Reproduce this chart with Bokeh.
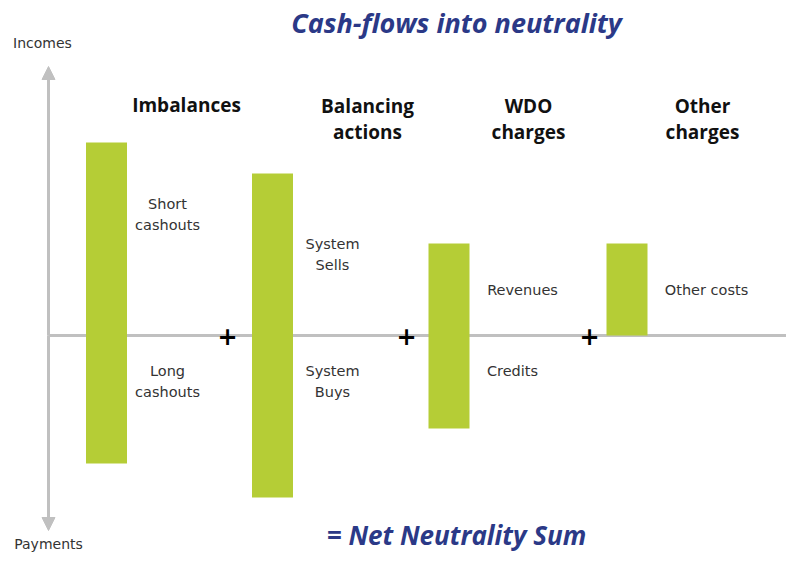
from bokeh.plotting import figure
from bokeh.models import Range1d, Arrow, NormalHead, ColumnDataSource
from bokeh.core.properties import value
from bokeh.embed import file_html
from bokeh.resources import INLINE

# ---- data ----
categories = ["Imbalances", "Balancing\nactions", "WDO\ncharges", "Other\ncharges"]
incomes = [19.3, 16.2, 9.2, 9.2]          # upward (incomes)
payments = [-12.8, -16.2, -9.3, 0.0]      # downward (payments)
income_labels = ["Short\ncashouts", "System\nSells", "Revenues", "Other costs"]
payment_labels = ["Long\ncashouts", "System\nBuys", "Credits", ""]
title_text = "Cash-flows into neutrality"
bottom_text = "= Net Neutrality Sum"

# ---- layout (page-pixel based) ----
W, H = 786, 552
ZERO = 335  # page y of the zero line
def py(page_y):
    return (ZERO - page_y) / 10.0

bar_x = [106, 272, 448.5, 626.5]
bar_w = 41
head_x = [186, 367, 528, 702]
head_y = [py(104), py(118), py(118), py(118)]
inc_x = [167, 332, 522, 706]
pay_x = [167, 332, 512, 706]

p = figure(width=W, height=H, output_backend="svg", toolbar_location=None,
           x_range=Range1d(0, W), y_range=Range1d(py(H), py(0)),
           min_border=0)
p.axis.visible = False
p.grid.visible = False
p.outline_line_color = None
p.background_fill_color = "white"
p.border_fill_color = "white"

green = "#b5cd36"
grey = "#c0c0c0"
blue = "#2b3987"
font = "DejaVu Sans"
hfont = "Open Sans"

# axes lines
p.segment(x0=[48], y0=[0], x1=[W], y1=[0], line_color=grey, line_width=3)
p.add_layout(Arrow(end=NormalHead(size=13, fill_color=grey, line_color=grey),
                   x_start=48, y_start=0, x_end=48, y_end=py(66),
                   line_color=grey, line_width=3))
p.add_layout(Arrow(end=NormalHead(size=13, fill_color=grey, line_color=grey),
                   x_start=48, y_start=0, x_end=48, y_end=py(530),
                   line_color=grey, line_width=3))

# bars
src = ColumnDataSource(dict(x=bar_x, top=incomes, bottom=payments))
p.vbar(x="x", width=bar_w, top="top", bottom="bottom", source=src,
       fill_color=green, line_color=None)

# headers
p.text(x=head_x, y=head_y, text=categories, text_font=value(hfont),
       text_font_style="bold", text_font_size="19px", text_color="#111111",
       text_align="center", text_baseline="middle", text_line_height=1.0)

# income / payment labels
inc_y = [py(214), py(254), py(289), py(289)]
p.text(x=inc_x, y=inc_y, text=income_labels, text_font=value(font),
       text_font_size="14.5px", text_color="#333333", text_align="center",
       text_baseline="middle", text_line_height=1.3)
pay_y = [py(381), py(381), py(370), py(370)]
p.text(x=pay_x, y=pay_y, text=payment_labels, text_font=value(font),
       text_font_size="14.5px", text_color="#333333", text_align="center",
       text_baseline="middle", text_line_height=1.3)

# plus signs
p.text(x=[227, 406, 589], y=[0, 0, 0], text=["+", "+", "+"],
       text_font=value("DejaVu Sans"), text_font_style="bold",
       text_font_size="24px", text_color="black", text_align="center",
       text_baseline="middle")

# axis end labels
p.text(x=[42, 48], y=[py(42), py(543)], text=["Incomes", "Payments"],
       text_font=value(font), text_font_size="14px", text_color="#333333",
       text_align="center", text_baseline="middle")

# title & bottom text
p.text(x=[456], y=[py(22)], text=[title_text], text_font=value(hfont),
       text_font_style="bold italic", text_font_size="27px", text_color=blue,
       text_align="center", text_baseline="middle")
p.text(x=[456], y=[py(534)], text=[bottom_text], text_font=value(hfont),
       text_font_style="bold italic", text_font_size="26px", text_color=blue,
       text_align="center", text_baseline="middle")

open("out.html", "w").write(file_html(p, INLINE))
